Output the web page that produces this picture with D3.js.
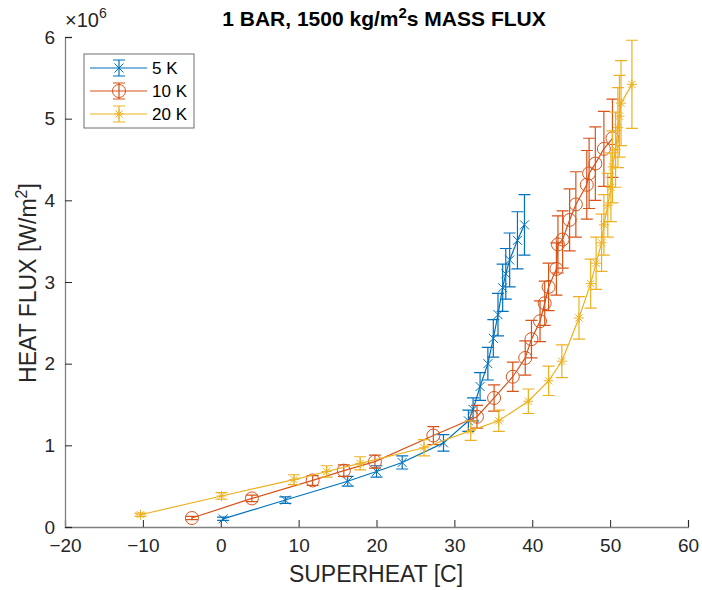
<!DOCTYPE html>
<html>
<head>
<meta charset="utf-8">
<script src="https://cdn.jsdelivr.net/npm/d3@7"></script>
<style>
  body { margin: 0; background: #fff; }
  text { font-family: "Liberation Sans", Arial, Helvetica, sans-serif; }
</style>
</head>
<body>
<svg id="chart"></svg>
<script>
// series info
const seriesNames = ["5 K", "10 K", "20 K"];
const seriesColors = ["#0072BD", "#D95319", "#EDB120"];
const seriesMarkers = ["x", "o", "*"];

const xTicks = [-20, -10, 0, 10, 20, 30, 40, 50, 60];
const yTicks = [0, 1, 2, 3, 4, 5, 6];

// 5 K : superheat [C], heat flux [x1e6 W/m2], error
const sh5 = [0.3, 8.3, 16.3, 20.0, 23.3, 28.6, 31.8, 32.4, 33.3, 34.3, 35.0, 35.6, 36.2, 36.6, 37.1, 38.1, 39.0];
const hf5 = [0.10, 0.33, 0.56, 0.68, 0.79, 1.03, 1.30, 1.44, 1.72, 2.00, 2.31, 2.60, 2.93, 3.10, 3.27, 3.51, 3.70];
const er5 = [0.02, 0.04, 0.06, 0.07, 0.08, 0.10, 0.13, 0.14, 0.17, 0.20, 0.23, 0.26, 0.29, 0.31, 0.33, 0.35, 0.37];

// 10 K
const sh10 = [-3.7, 4.0, 11.8, 15.8, 19.8, 27.3, 32.9, 35.1, 37.5, 39.1, 39.9, 41.0, 41.6, 42.1, 43.1, 43.3, 43.9, 44.8, 45.6, 47.0, 47.3, 48.1, 49.2, 50.3];
const hf10 = [0.11, 0.35, 0.57, 0.69, 0.80, 1.12, 1.35, 1.58, 1.84, 2.07, 2.30, 2.52, 2.74, 2.94, 3.16, 3.46, 3.52, 3.76, 3.95, 4.19, 4.33, 4.45, 4.63, 4.76];
const er10 = [0.02, 0.04, 0.06, 0.07, 0.08, 0.11, 0.14, 0.16, 0.18, 0.21, 0.23, 0.25, 0.27, 0.29, 0.32, 0.35, 0.35, 0.38, 0.40, 0.42, 0.43, 0.45, 0.46, 0.48];

// 20 K
const sh20 = [-10.3, 0.1, 9.4, 13.6, 17.9, 26.1, 32.1, 35.7, 39.5, 42.1, 43.8, 46.0, 47.5, 48.2, 48.9, 49.2, 49.7, 50.1, 50.3, 50.7, 51.0, 51.2, 51.4, 52.8];
const hf20 = [0.15, 0.38, 0.58, 0.68, 0.78, 0.97, 1.18, 1.30, 1.54, 1.79, 2.03, 2.56, 2.98, 3.23, 3.48, 3.70, 3.94, 4.16, 4.41, 4.62, 4.89, 5.03, 5.19, 5.42];
const er20 = [0.02, 0.04, 0.06, 0.07, 0.08, 0.10, 0.12, 0.13, 0.15, 0.18, 0.20, 0.26, 0.30, 0.32, 0.35, 0.37, 0.39, 0.42, 0.44, 0.46, 0.49, 0.50, 0.52, 0.54];

const W = 702, H = 590;
const svg = d3.select("#chart").attr("width", W).attr("height", H);

const x = d3.scaleLinear().domain([-20, 60]).range([65, 688]);
const y = d3.scaleLinear().domain([0, 6]).range([527, 37]);

const axisColor = "#808080";
const textColor = "#262626";

function drawMarker(g, type, cx, cy, color) {
  if (type === "x") {
    const s = 4.5;
    g.append("path").attr("d", `M${cx - s},${cy - s}L${cx + s},${cy + s}M${cx - s},${cy + s}L${cx + s},${cy - s}`)
      .attr("stroke", color).attr("fill", "none").attr("stroke-width", 1);
  } else if (type === "o") {
    g.append("circle").attr("cx", cx).attr("cy", cy).attr("r", 6.5)
      .attr("stroke", color).attr("fill", "none").attr("stroke-width", 1);
  } else {
    const s = 5, d = 3.6;
    g.append("path").attr("d", `M${cx - s},${cy}L${cx + s},${cy}M${cx},${cy - s}L${cx},${cy + s}M${cx - d},${cy - d}L${cx + d},${cy + d}M${cx - d},${cy + d}L${cx + d},${cy - d}`)
      .attr("stroke", color).attr("fill", "none").attr("stroke-width", 1);
  }
}

// axes
const xAxis = d3.axisBottom(x).tickValues(xTicks).tickSize(-7).tickPadding(12).tickFormat(d3.format("d"));
const gx = svg.append("g").attr("transform", `translate(0,${y(0)})`).call(xAxis);
const yAxis = d3.axisLeft(y).tickValues(yTicks).tickSize(-7).tickPadding(10).tickFormat(d3.format("d"));
const gy = svg.append("g").attr("transform", `translate(${x(-20)},0)`).call(yAxis);

[gx, gy].forEach(g => {
  g.select(".domain").attr("stroke", axisColor).attr("stroke-width", 1.3);
  g.selectAll(".tick line").attr("stroke", textColor).attr("stroke-width", 1);
  g.selectAll(".tick text").attr("fill", textColor).style("font-size", "19px")
    .style("font-family", '"Liberation Sans", Arial, sans-serif');
});

// x10^6 label
const ex = svg.append("text").attr("x", 65).attr("y", 27).attr("fill", textColor).style("font-size", "20px");
ex.append("tspan").text("\u00d710");
ex.append("tspan").attr("dy", -9).style("font-size", "14px").text("6");

// series
const series = [
  { sh: sh5, hf: hf5, er: er5 },
  { sh: sh10, hf: hf10, er: er10 },
  { sh: sh20, hf: hf20, er: er20 }
];

const line = d3.line().x(d => x(d[0])).y(d => y(d[1]));
const capW = 6;

series.forEach((s, i) => {
  const color = seriesColors[i];
  const g = svg.append("g");
  const pts = s.sh.map((v, j) => [v, s.hf[j], s.er[j]]);
  g.append("path").datum(pts).attr("d", line).attr("fill", "none")
    .attr("stroke", color).attr("stroke-width", 1.2);
  pts.forEach(p => {
    const cx = x(p[0]), top = y(p[1] + p[2]), bot = y(p[1] - p[2]);
    g.append("path")
      .attr("d", `M${cx},${top}L${cx},${bot}M${cx - capW},${top}L${cx + capW},${top}M${cx - capW},${bot}L${cx + capW},${bot}`)
      .attr("stroke", color).attr("stroke-width", 1.2).attr("fill", "none");
    drawMarker(g, seriesMarkers[i], cx, y(p[1]), color);
  });
});

// title
const title = svg.append("text").attr("x", 384).attr("y", 26).attr("text-anchor", "middle")
  .attr("fill", "#000").style("font-size", "21px").style("font-weight", "bold");
title.append("tspan").text("1 BAR, 1500 kg/m");
title.append("tspan").attr("dy", -8).style("font-size", "15px").text("2");
title.append("tspan").attr("dy", 8).text("s MASS FLUX");

// axis labels
svg.append("text").attr("x", 376).attr("y", 582).attr("text-anchor", "middle")
  .attr("fill", textColor).style("font-size", "23px").text("SUPERHEAT [C]");

const yl = svg.append("text").attr("transform", "translate(36,283) rotate(-90)").attr("text-anchor", "middle")
  .attr("fill", textColor).style("font-size", "23px");
yl.append("tspan").text("HEAT FLUX [W/m");
yl.append("tspan").attr("dy", -9).style("font-size", "16px").text("2");
yl.append("tspan").attr("dy", 9).text("]");

// legend
const lg = svg.append("g");
lg.append("rect").attr("x", 84).attr("y", 54).attr("width", 110).attr("height", 74)
  .attr("fill", "#fff").attr("stroke", "#6f6f6f").attr("stroke-width", 1);
seriesNames.forEach((name, i) => {
  const ly = 68 + i * 23, color = seriesColors[i];
  lg.append("line").attr("x1", 90).attr("x2", 147).attr("y1", ly).attr("y2", ly)
    .attr("stroke", color).attr("stroke-width", 1.2);
  lg.append("path").attr("d", `M119,${ly - 8}L119,${ly + 8}M${119 - capW},${ly - 8}L${119 + capW},${ly - 8}M${119 - capW},${ly + 8}L${119 + capW},${ly + 8}`)
    .attr("stroke", color).attr("stroke-width", 1.2).attr("fill", "none");
  drawMarker(lg, seriesMarkers[i], 119, ly, color);
  lg.append("text").attr("x", 152).attr("y", ly + 6).attr("fill", "#000").style("font-size", "17px").text(name);
});
</script>
</body>
</html>
